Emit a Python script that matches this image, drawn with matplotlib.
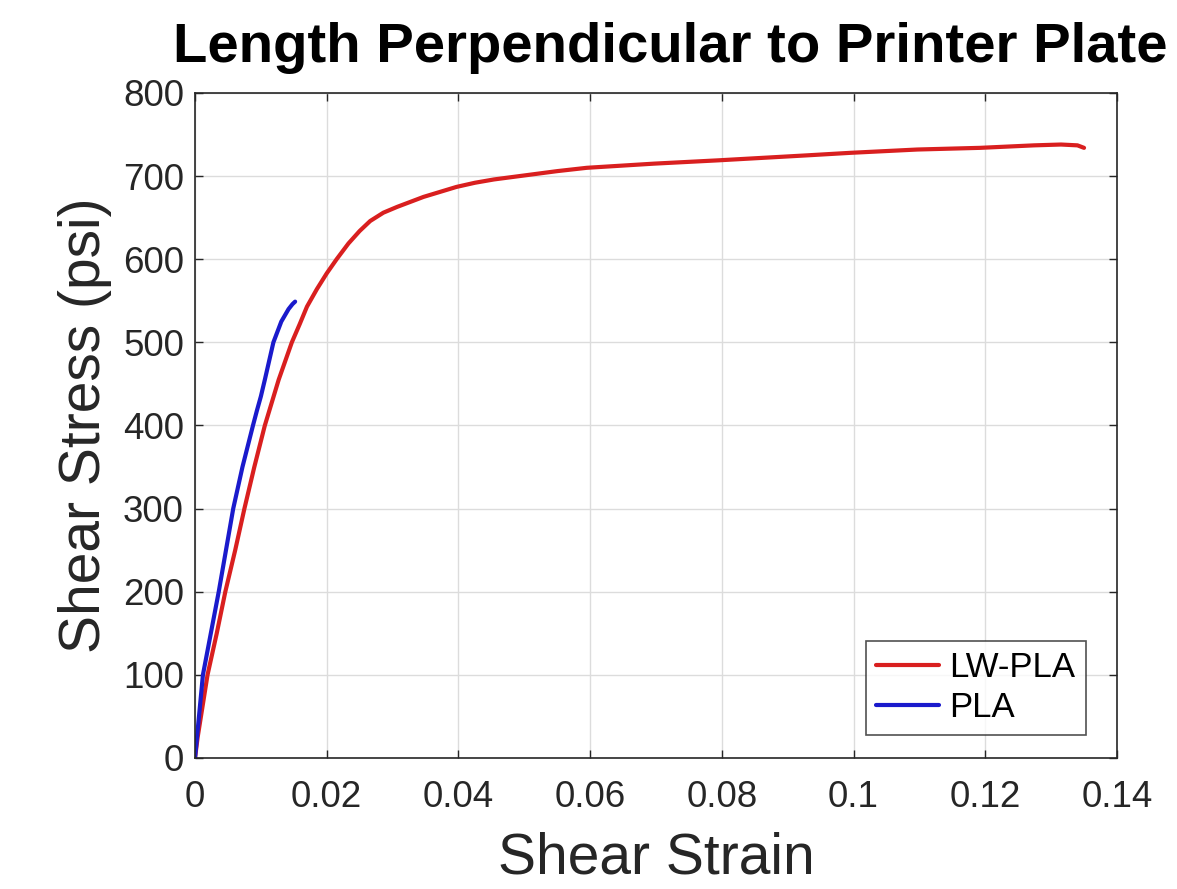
import matplotlib
matplotlib.use("Agg")
import matplotlib.pyplot as plt
import numpy as np

plt.rcParams['font.family'] = ['Liberation Sans', 'DejaVu Sans']

# Data
lw_strain = [0.0, 0.0004, 0.0009, 0.0019, 0.0033, 0.0046, 0.0061, 0.0075, 0.0090,
             0.0106, 0.0127, 0.0147, 0.0159, 0.0170, 0.0185, 0.0200, 0.0215, 0.0233,
             0.0250, 0.0266, 0.0286, 0.0307, 0.0327, 0.0347, 0.0372, 0.0397, 0.0425,
             0.0454, 0.0502, 0.0550, 0.0595, 0.0697, 0.0795, 0.0930, 0.0995, 0.1097,
             0.1192, 0.1274, 0.1315, 0.1340, 0.1350]
lw_stress = [0, 25, 50, 100, 150, 200, 250, 300, 350,
             400, 455, 500, 522, 543, 564, 583, 600, 619,
             634, 646, 656, 663, 669, 675, 681, 687, 692,
             696, 701, 706, 710, 715, 719, 725, 728, 732,
             734, 737, 738, 737, 734]

pla_strain = [0.0, 0.0003, 0.0006, 0.0012, 0.0024, 0.0036, 0.0047, 0.0058, 0.0072,
              0.0088, 0.0094, 0.0100, 0.0106, 0.0119, 0.0131, 0.0142, 0.0148, 0.0152]
pla_stress = [0, 25, 50, 100, 150, 200, 250, 300, 350,
              400, 418, 435, 455, 500, 525, 540, 546, 549]

fig = plt.figure(figsize=(11.77, 8.89), dpi=100)
ax = fig.add_axes([0.1657, 0.1474, 0.7833, 0.748])

ax.plot(lw_strain, lw_stress, color='#d91f1f', lw=3.0, label='LW-PLA',
        solid_capstyle='round', solid_joinstyle='round')
ax.plot(pla_strain, pla_stress, color='#1a1acc', lw=3.0, label='PLA',
        solid_capstyle='round', solid_joinstyle='round')

ax.set_xlim(0, 0.14)
ax.set_ylim(0, 800)
ax.set_xticks([0, 0.02, 0.04, 0.06, 0.08, 0.1, 0.12, 0.14])
ax.set_xticklabels(['0', '0.02', '0.04', '0.06', '0.08', '0.1', '0.12', '0.14'])
ax.set_yticks(range(0, 801, 100))

ax.grid(True, color='#dcdcdc', lw=1.0)
ax.set_axisbelow(True)
ax.tick_params(direction='in', top=True, right=True, length=6, width=1,
               labelsize=26.5, colors='#262626')
ax.tick_params(axis='x', pad=16)
ax.tick_params(axis='y', pad=8)
for s in ax.spines.values():
    s.set_color('#262626')
    s.set_linewidth(1.2)

ax.set_xlabel('Shear Strain', fontsize=41, color='#262626', labelpad=12)
ax.set_ylabel('Shear Stress (psi)', fontsize=41, color='#262626', labelpad=8)
ax.set_title('Length Perpendicular to Printer Plate', fontsize=40.5, fontweight='bold',
             color='black', pad=22, x=0.515)

leg = ax.legend(loc='lower right', fontsize=25, frameon=True, fancybox=False,
                edgecolor='#262626', handlelength=1.8, borderpad=0.3,
                labelspacing=0.2, handletextpad=0.3, borderaxespad=0,
                bbox_to_anchor=(0.966, 0.035))
leg.get_frame().set_linewidth(1.2)

fig.savefig('out.png', dpi=100)
